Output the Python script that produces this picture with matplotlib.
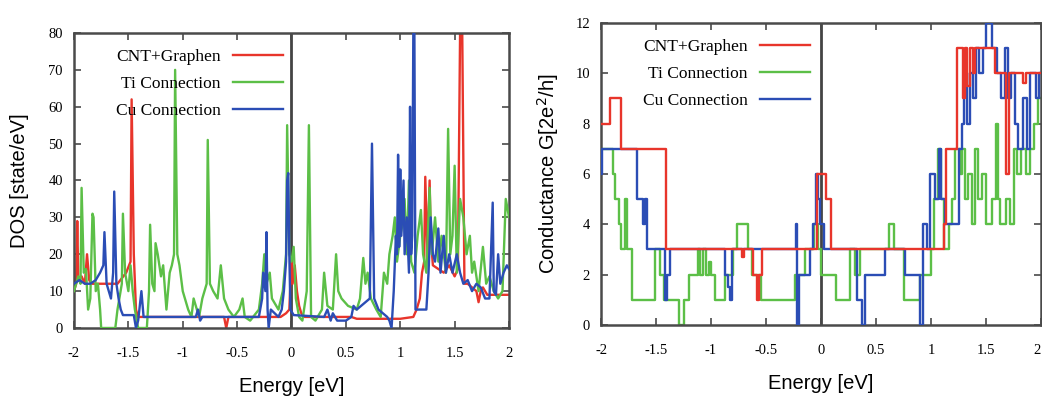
import matplotlib
matplotlib.use("Agg")
import matplotlib.pyplot as plt
from matplotlib.ticker import MultipleLocator

# ---------------- data ----------------
series_names = ["CNT+Graphen", "Ti Connection", "Cu Connection"]
series_colors = ["#e8352b", "#5cbf47", "#2b4db5"]

# DOS (left panel)
cnt_dos_x = [-2.0,-1.98,-1.97,-1.96,-1.93,-1.90,-1.88,-1.86,-1.84,-1.80,-1.70,-1.60,-1.52,-1.48,-1.47,-1.45,-1.43,-1.41,-1.38,-1.30,-1.0,-0.65,-0.62,-0.60,-0.58,-0.55,-0.3,-0.1,-0.05,-0.02,0.0,0.01,0.03,0.05,0.07,0.09,0.12,0.3,0.55,0.6,1.0,1.12,1.15,1.18,1.2,1.22,1.23,1.25,1.27,1.28,1.30,1.35,1.40,1.45,1.50,1.53,1.55,1.57,1.59,1.62,1.70,1.72,1.74,1.76,1.8,1.9,2.0]
cnt_dos_y = [10,12,29,13,14,12,20,13,12,12,12,12,15,18,62,20,5,3,3,3,3,3,3,0,3,3,3,3,4,5,19,12,17,10,6,4,3,3,3,2.5,2.5,3,5,8,15,18,41,20,40,25,17,16,15,17,14,16,80,80,12,12,10,7,10,11,9,9,9]

ti_dos_x = [-2.0,-1.96,-1.94,-1.93,-1.91,-1.89,-1.87,-1.85,-1.83,-1.82,-1.80,-1.78,-1.76,-1.75,-1.62,-1.60,-1.56,-1.55,-1.53,-1.50,-1.48,-1.46,-1.44,-1.41,-1.33,-1.31,-1.30,-1.28,-1.26,-1.25,-1.23,-1.20,-1.18,-1.15,-1.12,-1.10,-1.08,-1.07,-1.05,-1.03,-1.00,-0.95,-0.92,-0.90,-0.87,-0.85,-0.82,-0.80,-0.78,-0.77,-0.75,-0.72,-0.68,-0.65,-0.62,-0.58,-0.53,-0.48,-0.45,-0.43,-0.38,-0.30,-0.27,-0.25,-0.23,-0.20,-0.18,-0.12,-0.08,-0.05,-0.04,-0.02,0.0,0.02,0.04,0.07,0.10,0.14,0.16,0.18,0.22,0.28,0.30,0.33,0.38,0.41,0.43,0.46,0.52,0.60,0.63,0.66,0.68,0.70,0.73,0.78,0.82,0.85,0.88,0.90,0.93,0.95,0.97,1.00,1.02,1.04,1.06,1.08,1.10,1.13,1.16,1.19,1.21,1.24,1.27,1.29,1.32,1.35,1.38,1.42,1.44,1.46,1.48,1.50,1.52,1.55,1.58,1.61,1.64,1.66,1.68,1.72,1.76,1.79,1.82,1.86,1.90,1.94,1.97,2.0]
ti_dos_y = [10,14,12,38,15,16,5,8,31,30,10,12,5,0,0,5,12,31,15,10,17,10,5,0,0,10,28,12,10,23,20,14,17,5,15,17,20,70,20,17,10,5,3,8,5,3,8,10,12,51,12,10,8,17,8,5,3,5,8,3,2,5,12,20,12,15,8,5,10,20,55,20,18,22,8,3,2,10,55,3,2,5,15,6,5,20,10,8,6,5,8,19,12,15,8,5,3,15,12,20,25,30,18,25,28,35,20,40,18,15,25,32,20,15,38,20,30,18,25,15,54,20,25,44,15,35,30,20,25,15,18,10,22,12,14,10,8,10,35,30]

cu_dos_x = [-2.0,-1.95,-1.90,-1.85,-1.80,-1.76,-1.73,-1.72,-1.70,-1.68,-1.66,-1.64,-1.63,-1.61,-1.59,-1.57,-1.55,-1.45,-1.43,-1.41,-1.38,-1.36,-1.0,-0.88,-0.86,-0.84,-0.82,-0.5,-0.3,-0.27,-0.26,-0.24,-0.23,-0.22,-0.21,-0.19,-0.12,-0.09,-0.07,-0.05,-0.04,-0.03,-0.02,-0.01,0.02,0.30,0.33,0.36,0.38,0.42,0.50,0.55,0.57,0.60,0.68,0.72,0.74,0.76,0.80,0.88,0.90,0.92,0.94,0.96,0.97,0.98,0.99,1.00,1.01,1.03,1.04,1.06,1.08,1.09,1.10,1.11,1.12,1.13,1.14,1.24,1.26,1.28,1.30,1.32,1.35,1.37,1.40,1.42,1.45,1.48,1.52,1.55,1.58,1.62,1.66,1.70,1.74,1.78,1.82,1.85,1.86,1.88,1.90,1.92,1.95,1.98,2.0]
cu_dos_y = [12,13,12,12,13,15,17,26,12,10,8,15,37,12,8,5,3.5,3.5,0,2,10,3,3,3,5,2,3,3,3,8,15,10,26,5,0,5,3,5,10,18,40,42,20,5,3.5,3,5,2,4,2,2,3,6,5,7,8,50,8,5,3,2,0,10,25,20,47,22,43,25,40,20,30,15,60,20,25,80,80,5,5,15,30,20,18,27,15,25,15,20,15,20,15,12,13,10,12,11,8,8,34,10,9,20,12,15,17,16]

# Conductance (right panel), step series: value holds from x[i] to x[i+1]
cnt_g_x = [-2.0,-1.92,-1.82,-1.41,-0.72,-0.70,-0.62,-0.58,-0.56,-0.54,-0.04,0.045,0.09,1.12,1.14,1.24,1.29,1.31,1.33,1.35,1.38,1.40,1.58,1.68,1.71,1.84,1.86,2.0]
cnt_g_y = [8,9,7,3,2.7,3,2,1,2,3,6,5,3,4,7,11,9,11,9.5,11,10,11,10,6,10,9.6,10,10]

ti_g_x = [-2.0,-1.89,-1.87,-1.84,-1.82,-1.78,-1.76,-1.72,-1.51,-1.46,-1.43,-1.29,-1.25,-1.20,-1.12,-1.10,-1.07,-1.05,-1.02,-1.0,-0.96,-0.87,-0.80,-0.76,-0.66,-0.63,-0.55,-0.24,-0.15,-0.06,-0.03,0.0,0.14,0.26,0.31,0.35,0.62,0.66,0.75,0.90,1.0,1.03,1.06,1.09,1.12,1.16,1.19,1.22,1.26,1.28,1.31,1.34,1.37,1.40,1.43,1.46,1.50,1.55,1.59,1.61,1.63,1.68,1.72,1.75,1.78,1.82,1.86,1.90,1.94,1.97,2.0]
ti_g_y = [7,6,5,4,3,5,3,1,3,2,1,0,1,2,3,2,3,2,2.5,2,1,2,3,4,3,2,1,2,3,4,3,2,1,3,2,3,4,3,1,2,3,5,7,5,3,4,5,7,6,7,5,6,4,7,5,6,4,5,8,5,4,5,4,7,6,7,6,7,8,9,9]

cu_g_x = [-2.0,-1.995,-1.67,-1.62,-1.60,-1.58,-1.42,-1.40,-1.37,-0.87,-0.85,-0.83,-0.81,-0.23,-0.22,-0.20,-0.10,-0.07,-0.05,-0.03,-0.01,0.03,0.33,0.37,0.40,0.58,0.76,0.90,0.93,0.96,0.99,1.04,1.07,1.09,1.13,1.25,1.28,1.30,1.33,1.35,1.38,1.41,1.44,1.47,1.50,1.55,1.60,1.64,1.67,1.70,1.73,1.76,1.79,1.84,1.87,1.90,1.95,1.98,2.0]
cu_g_y = [6,7,5,4,5,3,1,2,3,2,1.5,1,3,4,0,2,3,4,6,5,4,3,1,0,2,3,2,0,4,3,6,5,7,5,4,7,8,10,8,10,9,11,10,11,12,11,10,9,11,9,10,8,7,9,7,10,9,10,10]

x_ticks = [-2, -1.5, -1, -0.5, 0, 0.5, 1, 1.5, 2]
x_tick_labels = ["-2", "-1.5", "-1", "-0.5", "0", "0.5", "1", "1.5", "2"]

# ---------------- figure ----------------
fig = plt.figure(figsize=(10.42, 3.97), dpi=100)
ax1 = fig.add_axes([0.0710, 0.1738, 0.4175, 0.7431])
ax2 = fig.add_axes([0.5768, 0.1814, 0.4223, 0.7607])

serif = "Liberation Serif"
sans = "Liberation Sans"
frame_col = "#4a4a4a"

def style(ax, ymax, ystep, ylabel, ylabelpad):
    ax.set_xlim(-2, 2)
    ax.set_ylim(0, ymax)
    ax.set_xticks(x_ticks)
    ax.set_xticklabels(x_tick_labels, fontfamily=serif, fontsize=10.5)
    ax.yaxis.set_major_locator(MultipleLocator(ystep))
    for lab in ax.get_yticklabels():
        lab.set_fontfamily(serif)
        lab.set_fontsize(10.5)
    ax.tick_params(direction="in", top=True, right=True, length=5, width=1.2,
                   color=frame_col)
    ax.tick_params(axis="x", pad=14)
    ax.tick_params(axis="y", pad=8)
    for s in ax.spines.values():
        s.set_color(frame_col)
        s.set_linewidth(1.8)
    ax.set_xlabel("Energy [eV]", fontfamily=sans, fontsize=14.5, labelpad=12)
    ax.set_ylabel(ylabel, fontfamily=sans, fontsize=14.5, labelpad=ylabelpad)
    ax.axvline(0, color="#444444", lw=2, zorder=1)

lw = 1.7
leg_kw = dict(loc="upper left", bbox_to_anchor=(0.06, 1.0), frameon=False,
              markerfirst=False, handlelength=2.9, handletextpad=0.7,
              labelspacing=0.62, prop={"family": serif, "size": 12.5})

# left: DOS
h1, = ax1.plot(cnt_dos_x, cnt_dos_y, color=series_colors[0], lw=lw, zorder=2)
h2, = ax1.plot(ti_dos_x, ti_dos_y, color=series_colors[1], lw=lw, zorder=3)
h3, = ax1.plot(cu_dos_x, cu_dos_y, color=series_colors[2], lw=lw, zorder=4)
style(ax1, 80, 10, "DOS [state/eV]", 14)
ax1.legend([h1, h2, h3], series_names, **leg_kw)

# right: Conductance
g2, = ax2.plot(ti_g_x, ti_g_y, color=series_colors[1], lw=lw, drawstyle="steps-post", zorder=2)
g3, = ax2.plot(cu_g_x, cu_g_y, color=series_colors[2], lw=lw, drawstyle="steps-post", zorder=3)
g1, = ax2.plot(cnt_g_x, cnt_g_y, color=series_colors[0], lw=lw, drawstyle="steps-post", zorder=4)
style(ax2, 12, 2, "Conductance G[2e$^2$/h]", 10)
ax2.legend([g1, g2, g3], series_names, **leg_kw)
# keep the last tick label inside the picture
ax2.get_xticklabels()[-1].set_horizontalalignment("right")

fig.savefig("out.png", dpi=100)
